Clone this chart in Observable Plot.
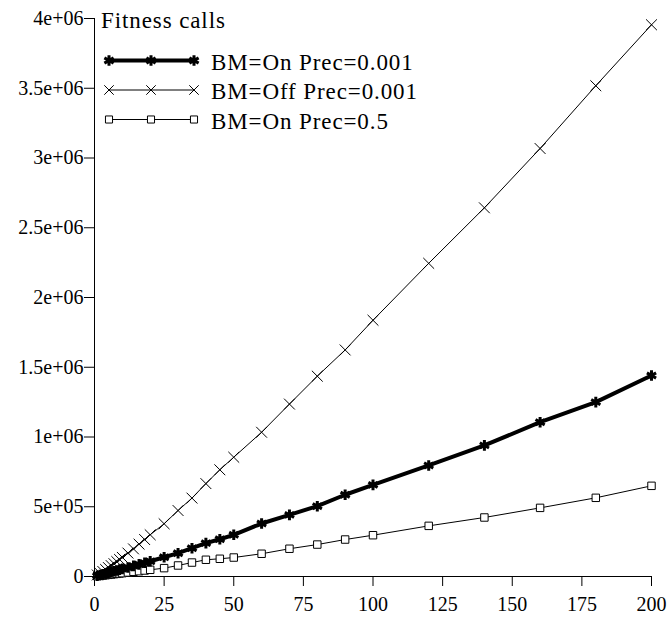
<!DOCTYPE html>
<html>
<head>
<meta charset="utf-8">
<script src="https://cdn.jsdelivr.net/npm/d3@7"></script>
<script src="https://cdn.jsdelivr.net/npm/@observablehq/plot@0.6"></script>
<style>
  html, body { margin: 0; padding: 0; background: #fff; }
  #chart svg, #chart svg text { font-family: "Liberation Serif", "Times New Roman", serif !important; }
  #chart svg .legend text { letter-spacing: 0.9px; }
</style>
</head>
<body>
<div id="chart"></div>
<script>
const xValues = [1,2,3,4,5,6,7,8,9,10,12,14,16,18,20,25,30,35,40,45,50,60,70,80,90,100,120,140,160,180,200];
const onPrec001 = [5000,10500,16000,21500,27000,32500,38000,43500,49000,54500,65000,76000,87000,98000,109000,138000,167000,203000,239000,267000,299000,380000,442000,504000,586000,657000,796000,940000,1106000,1250000,1441000];
const offPrec001 = [11000,23000,36000,50000,64000,78000,92000,107000,122000,137000,168000,198000,232000,265000,299000,378000,473000,562000,666000,765000,855000,1034000,1236000,1436000,1624000,1837000,2245000,2643000,3068000,3518000,3955000];
const onPrec05 = [2500,5000,7000,9500,12000,14500,17000,19000,21500,24000,29000,34000,38000,43000,48000,60000,79000,100000,120000,127000,136000,163000,199000,229000,265000,296000,363000,423000,492000,564000,650000];

const seriesNames = ["BM=On Prec=0.001", "BM=Off Prec=0.001", "BM=On Prec=0.5"];
const legendTitle = "Fitness calls";
const xTicks = [0,25,50,75,100,125,150,175,200];
const yTicks = [0,500000,1000000,1500000,2000000,2500000,3000000,3500000,4000000];
const yTickLabels = ["0","5e+05","1e+06","1.5e+06","2e+06","2.5e+06","3e+06","3.5e+06","4e+06"];

const mk = (ys) => xValues.map((x, i) => ({x, y: ys[i]}));
const dOn = mk(onPrec001), dOff = mk(offPrec001), dOn05 = mk(onPrec05);

const plot = Plot.plot({
  width: 668,
  height: 618,
  marginLeft: 94,
  marginRight: 17,
  marginTop: 18,
  marginBottom: 42,
  style: {fontSize: "20px", color: "#000", background: "#fff"},
  x: {domain: [0, 200], ticks: xTicks, label: null},
  y: {domain: [0, 4000000], ticks: yTicks, label: null},
  marks: [
    Plot.axisX({ticks: xTicks, tickSize: 10, tickPadding: 10, label: null, stroke: "#000", fill: "#000", fontSize: 20}),
    Plot.axisY({ticks: yTicks, tickSize: 10, tickPadding: 1, label: null, tickFormat: (d) => yTickLabels[yTicks.indexOf(d)], stroke: "#000", fill: "#000", fontSize: 20}),
    Plot.ruleX([0], {y1: 0, y2: 4000000, stroke: "#000", strokeWidth: 1}),
    Plot.ruleY([0], {x1: 0, x2: 200, stroke: "#000", strokeWidth: 1}),
    Plot.line(dOff, {x: "x", y: "y", stroke: "#000", strokeWidth: 1}),
    Plot.dot(dOff, {x: "x", y: "y", symbol: "times", r: 5, stroke: "#000", strokeWidth: 1}),
    Plot.line(dOn05, {x: "x", y: "y", stroke: "#000", strokeWidth: 1}),
    Plot.dot(dOn05, {x: "x", y: "y", symbol: "square", r: 4.2, stroke: "#000", fill: "#fff", strokeWidth: 1}),
    Plot.line(dOn, {x: "x", y: "y", stroke: "#000", strokeWidth: 4}),
    Plot.dot(dOn, {x: "x", y: "y", symbol: "asterisk", r: 5, stroke: "#000", strokeWidth: 3})
  ]
});

document.getElementById("chart").appendChild(plot);

// Legend drawn inside the svg
const svg = d3.select(plot);
const lg = svg.append("g").attr("class", "legend").attr("font-size", 23).attr("fill", "#000").attr("text-anchor", "start");
lg.append("text").attr("x", 101).attr("y", 19.5).attr("dy", "0.35em").text(legendTitle);
const rows = [
  {name: seriesNames[0], sym: d3.symbolAsterisk, w: 4, sw: 3, fill: "none", size: 80},
  {name: seriesNames[1], sym: d3.symbolTimes, w: 1, sw: 1, fill: "none", size: 60},
  {name: seriesNames[2], sym: d3.symbolSquare, w: 1, sw: 1, fill: "#fff", size: 50}
];
rows.forEach((r, i) => {
  const y = 60.5 + i * 29.5;
  const g = lg.append("g");
  g.append("line").attr("x1", 108).attr("x2", 194).attr("y1", y).attr("y2", y).attr("stroke", "#000").attr("stroke-width", r.w);
  [109, 151, 194].forEach(px => {
    g.append("path").attr("d", d3.symbol(r.sym, r.size)()).attr("transform", `translate(${px},${y})`)
      .attr("stroke", "#000").attr("stroke-width", r.sw).attr("fill", r.fill);
  });
  g.append("text").attr("x", 211).attr("y", y + 1).attr("dy", "0.35em").text(r.name);
});
</script>
</body>
</html>
